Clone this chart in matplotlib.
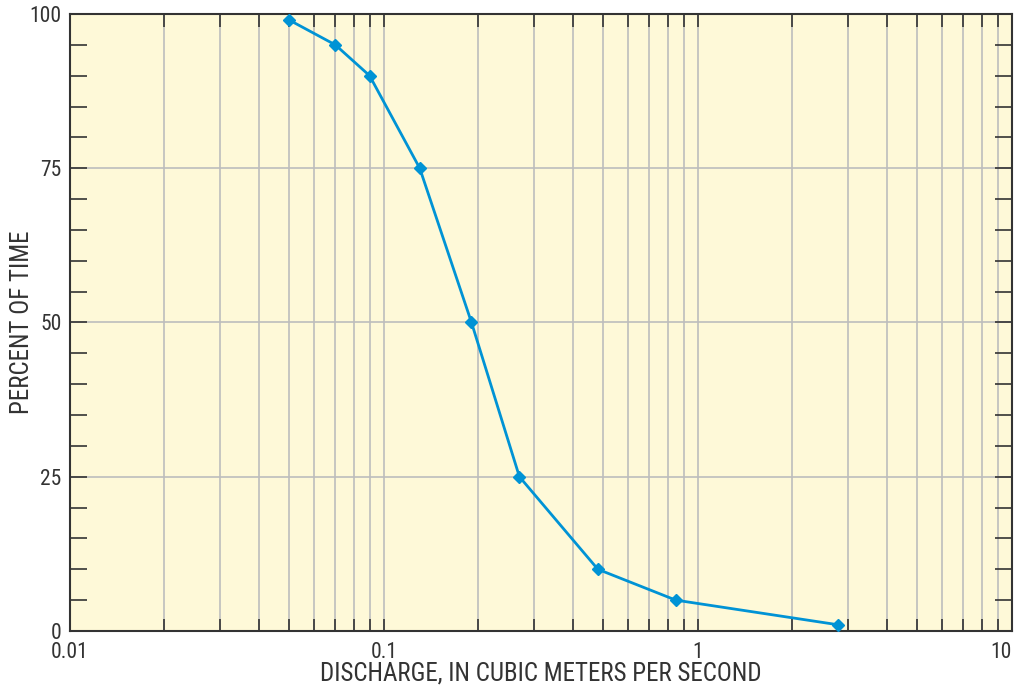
import numpy as np
import matplotlib.pyplot as plt
from matplotlib import font_manager
from matplotlib.ticker import FixedLocator, NullFormatter, LogLocator

# prefer a narrow face if one is installed
names = {f.name for f in font_manager.fontManager.ttflist}
narrow = [n for n in ['Liberation Sans Narrow', 'Roboto Condensed', 'Open Sans Condensed',
                      'DejaVu Sans Condensed'] if n in names]
plt.rcParams['font.family'] = narrow + ['DejaVu Sans']

discharge = [0.05, 0.07, 0.09, 0.13, 0.19, 0.27, 0.48, 0.85, 2.8]
percent = [99, 95, 90, 75, 50, 25, 10, 5, 1]

x_ticks = [0.01, 0.1, 1, 10]
x_labels = ['0.01', '0.1', '1', '10']
y_ticks = [0, 25, 50, 75, 100]

bg = '#fef9d8'
line_color = '#0093d5'
grid_color = '#bdbdbd'
spine_color = '#333333'

fig = plt.figure(figsize=(10.23, 6.86), dpi=100)
ax = fig.add_axes([0.0684, 0.0802, 0.9208, 0.8994])
ax.set_facecolor(bg)

ax.set_xscale('log')
ax.set_xlim(0.01, 10)
ax.set_ylim(0, 100)

ax.xaxis.set_major_locator(FixedLocator(x_ticks))
ax.set_xticklabels(x_labels)
ax.xaxis.set_minor_locator(LogLocator(base=10, subs=np.arange(2, 10)))
ax.xaxis.set_minor_formatter(NullFormatter())
ax.set_yticks(y_ticks)
ax.yaxis.set_minor_locator(FixedLocator(np.arange(0, 101, 5)))

ax.grid(True, which='both', axis='x', color=grid_color, lw=1.2)
ax.grid(True, which='major', axis='y', color=grid_color, lw=1.2)
ax.set_axisbelow(True)

ax.tick_params(which='both', direction='in', top=True, right=True,
               color=spine_color, width=1.2, labelsize=15.5, labelcolor='#333333')
ax.tick_params(axis='x', which='both', length=9, pad=8)
ax.tick_params(axis='y', which='both', length=12, pad=6)

for s in ax.spines.values():
    s.set_color(spine_color)
    s.set_linewidth(1.5)

ax.plot(discharge, percent, color=line_color, lw=2, marker='D', ms=6.5,
        zorder=5, clip_on=False)

ax.set_xlabel('DISCHARGE, IN CUBIC METERS PER SECOND', fontsize=18, color='#333333', labelpad=-1)
ax.set_ylabel('PERCENT OF TIME', fontsize=18, color='#333333', labelpad=-3)

# last x label sits inside the right edge, as in the reference
xl = ax.get_xticklabels()
xl[-1].set_horizontalalignment('right')

plt.savefig('out.png', dpi=100)
plt.close()
